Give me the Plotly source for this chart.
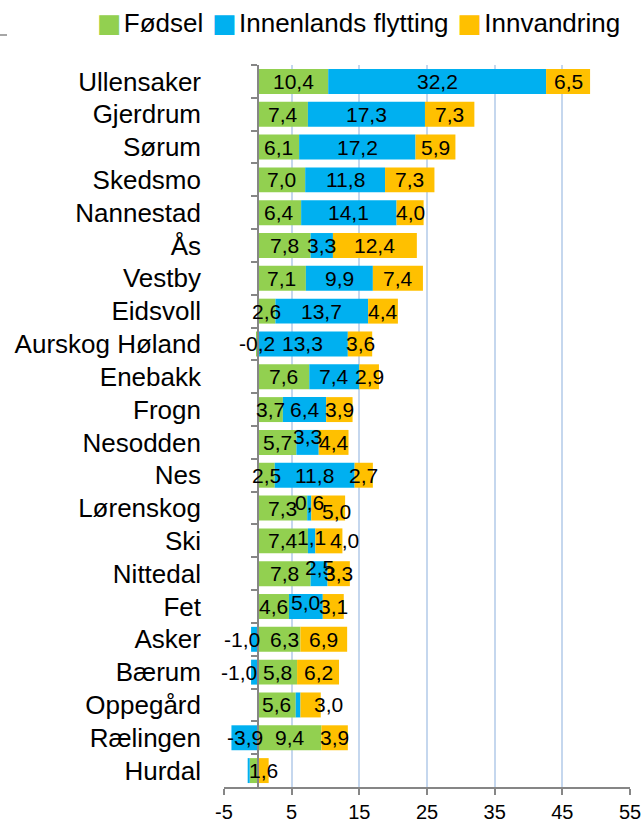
import plotly.graph_objects as go

# ---- data (top to bottom) ----
categories = ["Ullensaker", "Gjerdrum", "Sørum", "Skedsmo", "Nannestad", "Ås", "Vestby",
              "Eidsvoll", "Aurskog Høland", "Enebakk", "Frogn", "Nesodden", "Nes",
              "Lørenskog", "Ski", "Nittedal", "Fet", "Asker", "Bærum", "Oppegård",
              "Rælingen", "Hurdal"]
fodsel = [10.4, 7.4, 6.1, 7.0, 6.4, 7.8, 7.1, 2.6, -0.2, 7.6, 3.7, 5.7, 2.5,
          7.3, 7.4, 7.8, 4.6, 6.3, 5.8, 5.6, 9.4, -1.2]
innenlands = [32.2, 17.3, 17.2, 11.8, 14.1, 3.3, 9.9, 13.7, 13.3, 7.4, 6.4, 3.3, 11.8,
              0.6, 1.1, 2.5, 5.0, -1.0, -1.0, 0.7, -3.9, -0.3]
innvandring = [6.5, 7.3, 5.9, 7.3, 4.0, 12.4, 7.4, 4.4, 3.6, 2.9, 3.9, 4.4, 2.7,
               5.0, 4.0, 3.3, 3.1, 6.9, 6.2, 3.0, 3.9, 1.6]
series_names = ["Fødsel", "Innenlands flytting", "Innvandring"]
tick_values = [-5, 5, 15, 25, 35, 45, 55]
tick_labels = ["-5", "5", "15", "25", "35", "45", "55"]

# label styling: hidden labels and small pixel nudges (as in the original chart)
hidden_labels = {("Hurdal", "Fødsel"), ("Hurdal", "Innenlands flytting"),
                 ("Oppegård", "Innenlands flytting")}
label_nudge = {
    ("Nesodden", "Innenlands flytting"): (0, 6),
    ("Lørenskog", "Innenlands flytting"): (0, 6),
    ("Lørenskog", "Innvandring"): (8, -3),
    ("Ski", "Innenlands flytting"): (0, 3),
    ("Ski", "Innvandring"): (16, 0),
    ("Nittedal", "Innenlands flytting"): (0, 6),
    ("Fet", "Innenlands flytting"): (0, 4),
    ("Asker", "Fødsel"): (5, 0),
    ("Asker", "Innenlands flytting"): (-12, 0),
    ("Bærum", "Innenlands flytting"): (-15, 0),
    ("Oppegård", "Innvandring"): (18, 0),
}

colors = ["#92D050", "#00B0F0", "#FFC000"]
FONT = "Liberation Sans, Arial, sans-serif"


def fmt(v):
    return f"{v:.1f}".replace(".", ",")


fig = go.Figure()
all_series = [fodsel, innenlands, innvandring]
for name, vals, col in zip(series_names, all_series, colors):
    fig.add_trace(go.Bar(
        name=name, y=categories, x=vals, orientation="h",
        marker=dict(color=col, line=dict(width=0)),
        showlegend=False, hoverinfo="x+y",
    ))

# data labels above all bars, centred in each stacked segment
annotations = []
pos_base = [0.0] * len(categories)
neg_base = [0.0] * len(categories)
for name, vals in zip(series_names, all_series):
    for i, (c, v) in enumerate(zip(categories, vals)):
        if v >= 0:
            mid = pos_base[i] + v / 2
            pos_base[i] += v
        else:
            mid = neg_base[i] + v / 2
            neg_base[i] += v
        if (c, name) in hidden_labels:
            continue
        dx, dy = label_nudge.get((c, name), (0, 0))
        annotations.append(dict(
            x=mid, y=c, xref="x", yref="y", text=fmt(v), showarrow=False,
            xanchor="center", yanchor="middle", xshift=dx, yshift=dy,
            font=dict(color="black", size=21, family=FONT)))

# invisible helper trace so the zero-axis (y2) has categories
fig.add_trace(go.Scatter(x=[0] * len(categories), y=categories, yaxis="y2",
                         mode="markers", marker=dict(opacity=0),
                         showlegend=False, hoverinfo="skip"))

legend_text = "".join(
    f'<span style="color:{col};font-family:DejaVu Sans">■</span>'
    f'<span style="font-size:8px"> </span>{name}'
    + ('<span style="font-size:16px">  </span>' if k < 2 else "")
    for k, (name, col) in enumerate(zip(series_names, colors))
)
annotations.append(dict(text=legend_text, xref="paper", yref="paper",
                        x=(358 - 224) / 406, y=1 + (65 - 23) / 722,
                        xanchor="center", yanchor="middle", showarrow=False,
                        font=dict(size=26, family=FONT, color="black")))

n = len(categories)
fig.update_layout(
    width=643, height=823,
    margin=dict(l=224, r=13, t=65, b=36, autoexpand=False),
    paper_bgcolor="white", plot_bgcolor="white",
    barmode="relative", bargap=0.24,
    font=dict(family=FONT, color="black"),
    showlegend=False,
    xaxis=dict(range=[-5, 55], tickmode="array", tickvals=tick_values, ticktext=tick_labels,
               showgrid=True, gridcolor="#C5D7EE", gridwidth=1.5, zeroline=False,
               showline=True, linecolor="#868686", linewidth=2,
               ticks="outside", ticklen=6, tickcolor="#868686", tickwidth=2,
               tickfont=dict(size=20, family=FONT), automargin=False),
    yaxis=dict(type="category", categoryorder="array", categoryarray=categories,
               range=[n - 0.5, -0.5], showgrid=False, zeroline=False, showline=False,
               ticks="", ticklabelstandoff=22, automargin=False,
               tickfont=dict(size=26, family=FONT)),
    yaxis2=dict(type="category", categoryorder="array", categoryarray=categories,
                range=[n - 0.5, -0.5], overlaying="y", anchor="free",
                position=(0 - (-5)) / 60, side="left", automargin=False,
                showline=True, linecolor="#868686", linewidth=2,
                ticks="outside", tickson="boundaries", ticklen=6, tickcolor="#868686",
                tickwidth=2, showticklabels=False, showgrid=False, zeroline=False),
    annotations=annotations,
    shapes=[dict(type="line", xref="paper", yref="paper",
                 x0=-224 / 406, x1=-217 / 406, y0=1 + 30 / 722, y1=1 + 30 / 722,
                 line=dict(color="#A6A6A6", width=2))],
)

fig.write_html("out.html", config={"displayModeBar": False},
               post_script="document.body.style.margin='0';document.body.style.overflow='hidden';")
